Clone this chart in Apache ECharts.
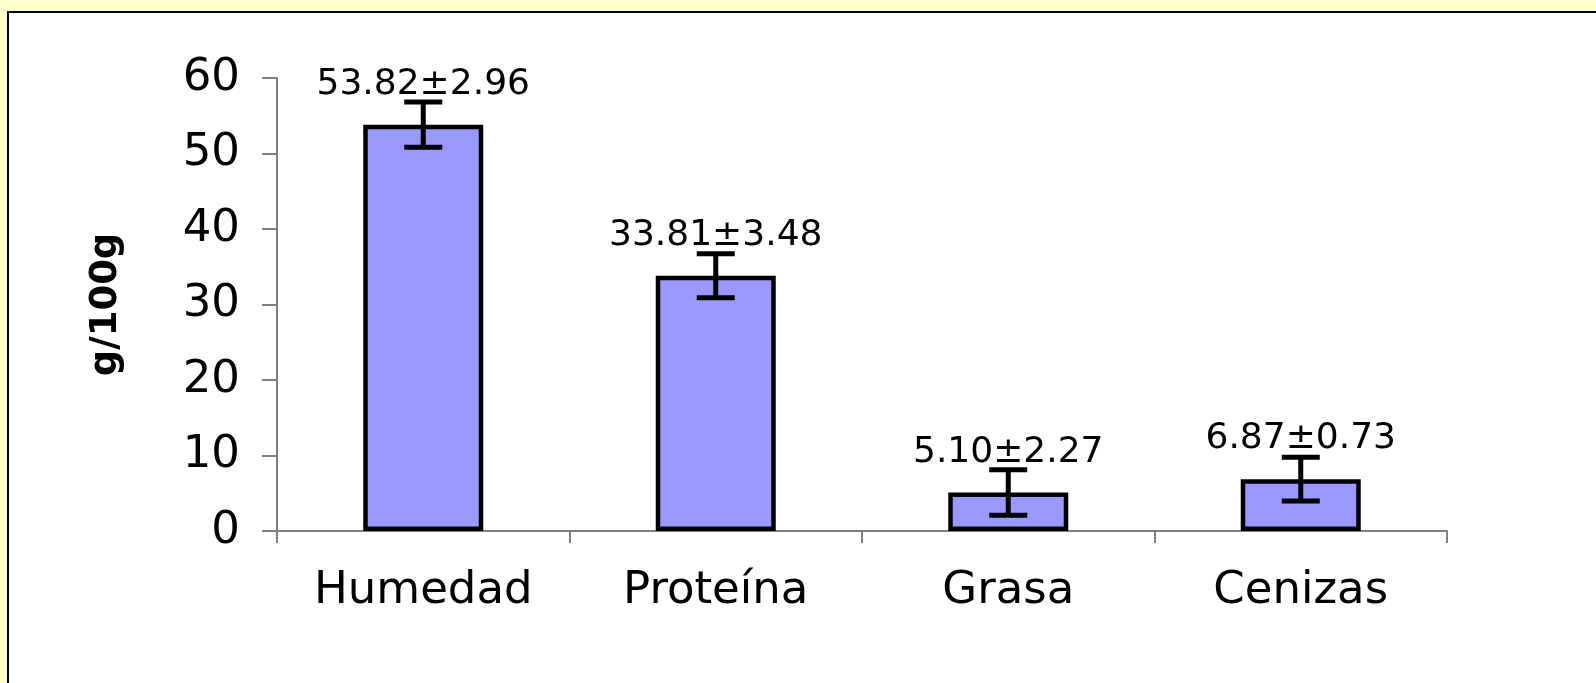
<!DOCTYPE html>
<html>
<head>
<meta charset="utf-8">
<title>g/100g</title>
<script src="https://cdn.jsdelivr.net/npm/echarts@6/dist/echarts.min.js"></script>
<style>
  html, body {
    margin: 0;
    padding: 0;
    background: #ffffcc;
    overflow: hidden;
  }
  .frame {
    position: absolute;
    left: 7px;
    top: 11px;
    width: 1620px;
    height: 700px;
    background: #fff;
    border: 2px solid #000;
  }
  #chart {
    position: absolute;
    left: 0;
    top: 0;
    width: 1596px;
    height: 683px;
  }
</style>
</head>
<body>
<div class="frame"></div>
<div id="chart"></div>
<script>
// categorias
var categories = ["Humedad", "Proteína", "Grasa", "Cenizas"];
// media y desviacion (textos de las etiquetas)
var means = [53.82, 33.81, 5.10, 6.87];
var sds = [2.96, 3.48, 2.27, 0.73];
// largo de la barra de error
var errBars = [3.0, 2.9, 3.0, 2.9];
var yTicks = [0, 10, 20, 30, 40, 50, 60];

var chart = echarts.init(document.getElementById("chart"));

var errData = categories.map(function (c, i) {
  return [i, means[i] - errBars[i], means[i] + errBars[i]];
});

var option = {
  backgroundColor: "transparent",
  animation: false,
  grid: {
    left: 277,
    right: 149,
    top: 78,
    bottom: 152
  },
  xAxis: {
    type: "category",
    data: categories,
    axisLine: { lineStyle: { color: "#808080", width: 2 } },
    axisTick: { show: true, length: 12, lineStyle: { color: "#808080", width: 2 } },
    axisLabel: {
      margin: 38,
      color: "#000",
      fontFamily: "DejaVu Sans",
      fontSize: 45
    }
  },
  yAxis: {
    type: "value",
    min: yTicks[0],
    max: yTicks[yTicks.length - 1],
    interval: 10,
    name: "g/100g",
    nameLocation: "middle",
    nameGap: 152,
    nameRotate: 90,
    nameTextStyle: {
      color: "#000",
      fontFamily: "DejaVu Sans",
      fontWeight: "bold",
      fontSize: 37
    },
    splitLine: { show: false },
    axisLine: { show: true, lineStyle: { color: "#808080", width: 2 } },
    axisTick: { show: true, length: 15, lineStyle: { color: "#808080", width: 2 } },
    axisLabel: {
      margin: 37,
      color: "#000",
      fontFamily: "DejaVu Sans",
      fontSize: 45
    }
  },
  series: [
    {
      type: "bar",
      data: means,
      barWidth: 120,
      itemStyle: {
        color: "#9999ff",
        borderColor: "#000",
        borderWidth: 4.5
      },
      label: {
        show: true,
        position: "top",
        distance: 22,
        color: "#000",
        fontFamily: "DejaVu Sans",
        fontSize: 36,
        formatter: function (p) {
          return means[p.dataIndex].toFixed(2) + "±" + sds[p.dataIndex].toFixed(2);
        }
      },
      z: 2
    },
    {
      type: "custom",
      data: errData,
      z: 3,
      renderItem: function (params, api) {
        var lo = api.coord([api.value(0), api.value(1)]);
        var hi = api.coord([api.value(0), api.value(2)]);
        var half = 19;
        var style = { stroke: "#000", lineWidth: 5 };
        return {
          type: "group",
          children: [
            { type: "line", shape: { x1: hi[0], y1: hi[1], x2: lo[0], y2: lo[1] }, style: style },
            { type: "line", shape: { x1: hi[0] - half, y1: hi[1], x2: hi[0] + half, y2: hi[1] }, style: style },
            { type: "line", shape: { x1: lo[0] - half, y1: lo[1], x2: lo[0] + half, y2: lo[1] }, style: style }
          ]
        };
      }
    }
  ]
};

chart.setOption(option);
</script>
</body>
</html>
